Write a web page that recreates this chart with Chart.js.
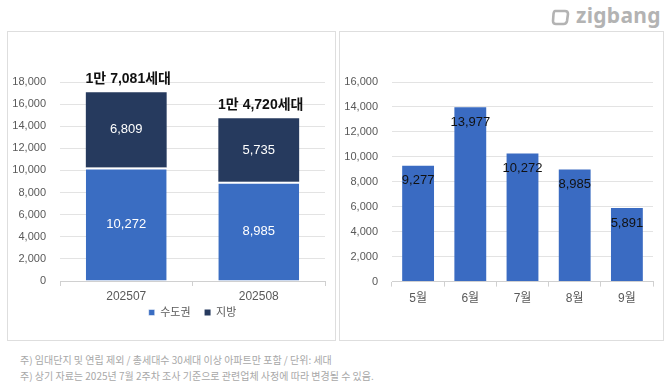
<!DOCTYPE html>
<html>
<head>
<meta charset="utf-8">
<script src="https://cdn.jsdelivr.net/npm/chart.js@4.4.1/dist/chart.umd.min.js"></script>
<style>
    body { margin: 0; width: 670px; height: 389px; background: #fff; position: relative; overflow: hidden;
           font-family: Arial, "Liberation Sans", "Noto Sans CJK KR", sans-serif; }
    .panel { position: absolute; border: 1px solid #dedede; box-sizing: border-box; }
    .chartbox { position: absolute; }
    .note { position: absolute; left: 20px; font-size: 10px; color: #a8a8a8; font-family: "Noto Sans CJK KR", sans-serif; white-space: nowrap; }
    .logo { position: absolute; left: 551px; top: 1px; color: #b3b3b3; font: bold 21px "Noto Sans", Arial, sans-serif; letter-spacing: 0.3px; }
    .logo svg { vertical-align: -3px; margin-right: 6px; }
</style>
</head>
<body>

<div class="panel" style="left:7px; top:31px; width:329px; height:310px;"></div>
<div class="panel" style="left:339px; top:31px; width:325px; height:310px;"></div>

<div class="chartbox" style="left:7px; top:31px; width:328px; height:309px;"><canvas id="chartLeft"></canvas></div>
<div class="chartbox" style="left:339px; top:31px; width:324px; height:309px;"><canvas id="chartRight"></canvas></div>

<div class="logo"><svg width="19" height="17" viewBox="0 0 19 17"><path d="M4 2 L14 2 Q17 2 17 5 L16 12 Q15.5 15 12.5 15 L5 15 Q2 15 2 12 L2.5 5 Q3 2 4 2 Z" fill="none" stroke="#b3b3b3" stroke-width="2.6" stroke-linejoin="round"/></svg>zigbang</div>

<div class="note" style="top:352px;">주) 임대단지 및 연립 제외 / 총세대수 30세대 이상 아파트만 포함 / 단위: 세대</div>
<div class="note" style="top:368px;">주) 상기 자료는 2025년 7월 2주차 조사 기준으로 관련업체 사정에 따라 변경될 수 있음.</div>

<script>
// 왼쪽: 월별 수도권 / 지방
const monthsLeft = ['202507', '202508'];
const capitalArea = [10272, 8985];   // 수도권
const regions = [6809, 5735];        // 지방
const totalLabels = ['1만 7,081세대', '1만 4,720세대'];
const yTicksLeft = [0, 2000, 4000, 6000, 8000, 10000, 12000, 14000, 16000, 18000];

// 오른쪽: 5~9월
const monthsRight = ['5월', '6월', '7월', '8월', '9월'];
const monthlyTotals = [9277, 13977, 10272, 8985, 5891];
const yTicksRight = [0, 2000, 4000, 6000, 8000, 10000, 12000, 14000, 16000];

const FONT = 'Arial, "Liberation Sans", "Noto Sans CJK KR", sans-serif';
const fmt = v => v.toLocaleString('en-US');

// 막대 안 숫자
const leftLabels = {
    id: 'leftLabels',
    afterDatasetsDraw(chart) {
        const ctx = chart.ctx;
        ctx.save();
        ctx.textAlign = 'center';
        ctx.textBaseline = 'middle';
        ctx.font = '13px ' + FONT;
        ctx.fillStyle = '#ffffff';
        chart.data.datasets.forEach((ds, i) => {
            chart.getDatasetMeta(i).data.forEach((bar, j) => {
                ctx.fillText(fmt(ds.data[j]), bar.x, (bar.y + bar.base) / 2);
            });
        });
        // 합계
        const top = chart.getDatasetMeta(chart.data.datasets.length - 1).data;
        ctx.font = 'bold 14px ' + FONT;
        ctx.fillStyle = '#111111';
        top.forEach((bar, j) => {
            ctx.fillText(totalLabels[j], bar.x + 2, bar.y - 13);
        });
        ctx.restore();
    }
};

const rightLabels = {
    id: 'rightLabels',
    afterDatasetsDraw(chart) {
        const ctx = chart.ctx;
        ctx.save();
        ctx.textAlign = 'center';
        ctx.textBaseline = 'middle';
        ctx.font = '13px ' + FONT;
        ctx.fillStyle = '#111111';
        const ds = chart.data.datasets[0];
        chart.getDatasetMeta(0).data.forEach((bar, j) => {
            ctx.fillText(fmt(ds.data[j]), bar.x, bar.y + 15);
        });
        ctx.restore();
    }
};

function yScale(ticksList, max) {
    return {
        min: 0,
        max: max,
        stacked: true,
        afterBuildTicks: s => { s.ticks = ticksList.map(v => ({ value: v })); },
        afterFit: s => { s.width = 53; },
        grid: { color: '#e3e3e3', drawTicks: false },
        border: { display: false },
        ticks: { color: '#595959', padding: 14, font: { size: 11, family: FONT }, callback: v => fmt(v) }
    };
}

new Chart(document.getElementById('chartLeft'), {
    type: 'bar',
    data: {
        labels: monthsLeft,
        datasets: [
            { label: '수도권', data: capitalArea, backgroundColor: '#3A6DC2', borderColor: '#ffffff', borderWidth: { top: 2 }, borderSkipped: 'bottom', barPercentage: 0.61, categoryPercentage: 1 },
            { label: '지방', data: regions, backgroundColor: '#263A5E', barPercentage: 0.61, categoryPercentage: 1 }
        ]
    },
    options: {
        responsive: true,
        maintainAspectRatio: false,
        animation: false,
        layout: { padding: { top: 51, right: 10, bottom: 12, left: 0 } },
        plugins: {
            tooltip: { enabled: false },
            legend: {
                position: 'bottom',
                fullSize: false,
                labels: {
                    usePointStyle: true, pointStyle: 'rect', boxWidth: 6, boxHeight: 6,
                    padding: 14, color: '#595959', font: { size: 11, family: FONT }
                }
            }
        },
        scales: {
            x: {
                stacked: true,
                // 범례를 눈금 글자 쪽으로 당기기
                afterFit: s => { s.height = 12; s._computeLabelArea = () => undefined; },
                grid: { drawOnChartArea: false, tickLength: 5, color: '#d0d0d0', offset: true },
                border: { color: '#d0d0d0' },
                ticks: { color: '#595959', padding: 3, font: { size: 12, family: FONT } }
            },
            y: yScale(yTicksLeft, 18000)
        }
    },
    plugins: [leftLabels]
});

new Chart(document.getElementById('chartRight'), {
    type: 'bar',
    data: {
        labels: monthsRight,
        datasets: [
            { label: '분양', data: monthlyTotals, backgroundColor: '#3A6BC2', barPercentage: 0.61, categoryPercentage: 1 }
        ]
    },
    options: {
        responsive: true,
        maintainAspectRatio: false,
        animation: false,
        layout: { padding: { top: 51, right: 10, bottom: 29, left: 0 } },
        plugins: { tooltip: { enabled: false }, legend: { display: false } },
        scales: {
            x: {
                grid: { drawOnChartArea: false, tickLength: 5, color: '#d0d0d0', offset: true },
                border: { color: '#d0d0d0' },
                ticks: { color: '#595959', padding: 5, font: { size: 12, family: FONT } }
            },
            y: yScale(yTicksRight, 16000)
        }
    },
    plugins: [rightLabels]
});
</script>
</body>
</html>
